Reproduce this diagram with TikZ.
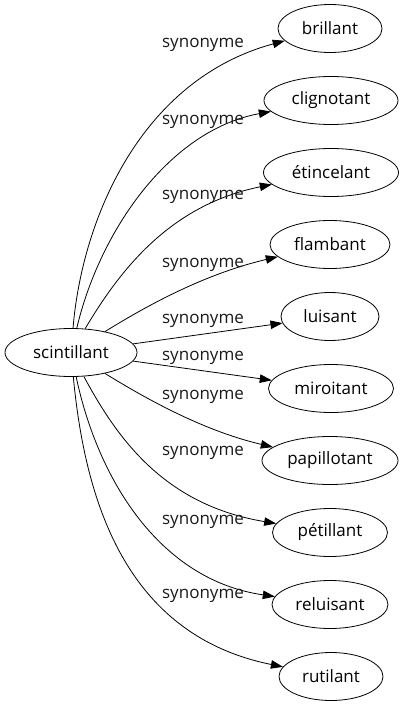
\documentclass[tikz,border=0pt]{standalone}
\usepackage{fontspec}
\setmainfont{Open Sans}
\usetikzlibrary{shapes.geometric,arrows.meta}
\begin{document}
\begin{tikzpicture}[x=1pt,y=-1pt,
  word/.style={draw,ellipse,inner sep=0pt,minimum height=48pt,line width=0.8pt,font=\fontsize{17}{20}\selectfont},
  syn/.style={font=\fontsize{17}{20}\selectfont,text=black!90,inner sep=0pt},
  edge/.style={line width=0.8pt,-{Triangle[length=12pt,width=8.5pt]}}]
\useasboundingbox (0,0) rectangle (406,707);
\node[word,minimum width=132pt] (s) at (71,352.5) {scintillant};
\node[word,minimum width=104pt] (n1) at (330,28.5) {brillant};
\node[word,minimum width=134pt] (n2) at (331,100.5) {clignotant};
\node[word,minimum width=135pt] (n3) at (331,172.5) {étincelant};
\node[word,minimum width=120pt] (n4) at (330,244.5) {flambant};
\node[word,minimum width=98pt] (n5) at (330,316.5) {luisant};
\node[word,minimum width=125pt] (n6) at (331,388.5) {miroitant};
\node[word,minimum width=136pt] (n7) at (330,460.5) {papillotant};
\node[word,minimum width=115pt] (n8) at (330,532.5) {pétillant};
\node[word,minimum width=116pt] (n9) at (330,604.5) {reluisant};
\node[word,minimum width=104pt] (n10) at (331,676.5) {rutilant};
\draw[edge] (s) .. controls (82,220) and (140,80) .. (n1);
\draw[edge] (s) .. controls (100,230) and (170,130) .. (n2);
\draw[edge] (s) .. controls (120,270) and (170,205) .. (n3);
\draw[edge] (s) .. controls (140,310) and (200,275) .. (n4);
\draw[edge] (s) -- (n5);
\draw[edge] (s) -- (n6);
\draw[edge] (s) .. controls (140,395) and (200,430) .. (n7);
\draw[edge] (s) .. controls (118,440) and (165,505) .. (n8);
\draw[edge] (s) .. controls (98,480) and (160,580) .. (n9);
\draw[edge] (s) .. controls (85,500) and (125,635) .. (n10);
\node[syn] (l1) at (203,45) {synonyme};
\node[syn] (l2) at (203,122) {synonyme};
\node[syn] (l3) at (203,197) {synonyme};
\node[syn] (l4) at (203,265) {synonyme};
\node[syn] (l5) at (203,321) {synonyme};
\node[syn] (l6) at (203,358) {synonyme};
\node[syn] (l7) at (203,397) {synonyme};
\node[syn] (l8) at (203,453) {synonyme};
\node[syn] (l9) at (203,522) {synonyme};
\node[syn] (l10) at (203,596) {synonyme};
\end{tikzpicture}
\end{document}
